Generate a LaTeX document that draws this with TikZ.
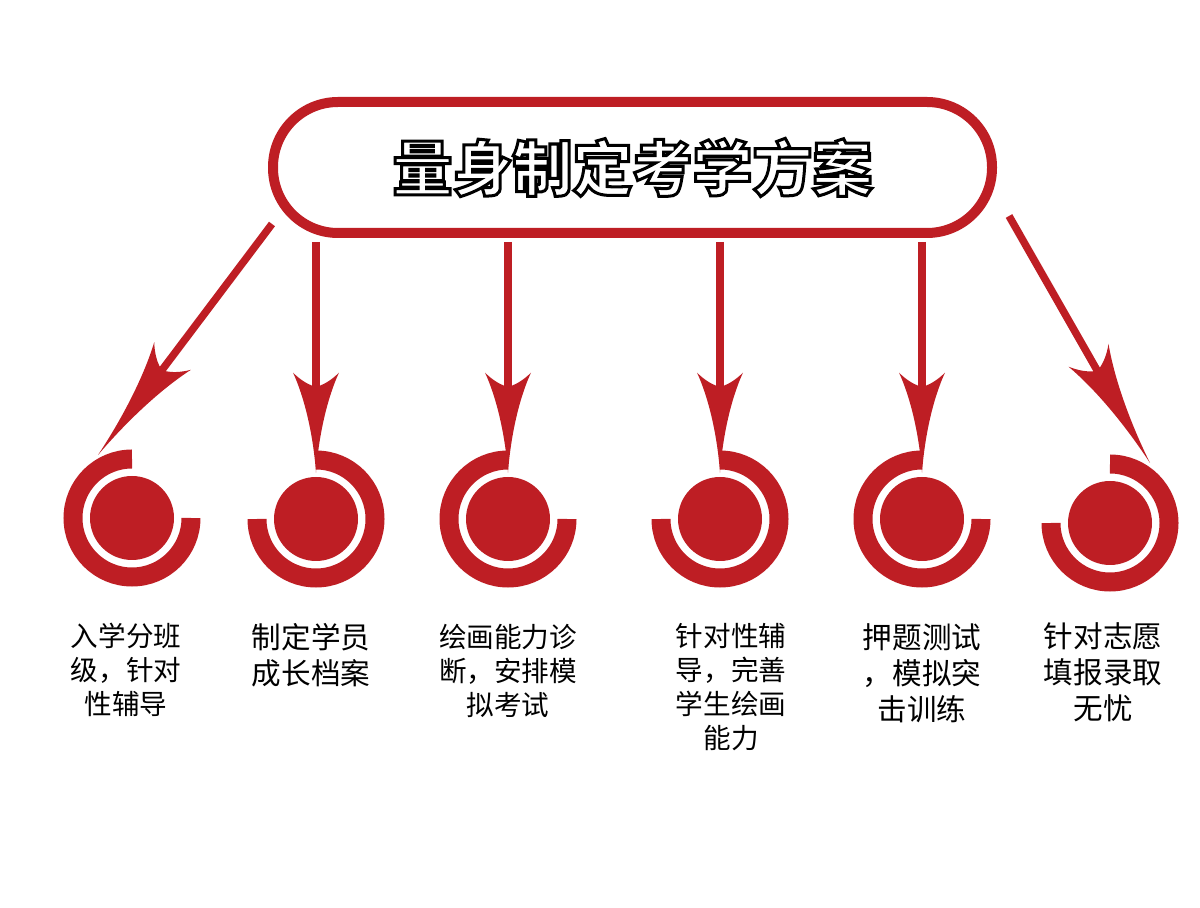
\documentclass[tikz,border=0pt]{standalone}
\usepackage{fontspec}
\usepackage{xcolor}
\usetikzlibrary{arrows.meta,positioning}
\setmainfont{Noto Sans CJK SC}
\definecolor{planred}{RGB}{190,30,36}

% hollow title: white fill, black stroke
\newcommand{\hollow}[1]{{\color{white}\special{pdf:literal direct 0 G 2 Tr 1.5 w}#1\special{pdf:literal direct 0 Tr}}}

% barbed arrow head with concave sides
\newdimen\barbL
\newdimen\barbW
\pgfdeclarearrow{
  name = Barb,
  parameters = {\the\pgfarrowlength,\the\pgfarrowwidth},
  setup code = {
    \barbL=\pgfarrowlength
    \barbW=.5\pgfarrowwidth
    \pgfarrowssettipend{0pt}
    \pgfarrowssetlineend{-.8\barbL}
    \pgfarrowssetbackend{-\barbL}
    \pgfarrowsupperhullpoint{-\barbL}{\barbW}
    \pgfarrowssavethe\barbL
    \pgfarrowssavethe\barbW
  },
  drawing code = {
    \pgfpathmoveto{\pgfqpoint{0pt}{0pt}}
    \pgfpathcurveto{\pgfqpoint{-.4\barbL}{.13\barbW}}{\pgfqpoint{-.76\barbL}{.52\barbW}}{\pgfqpoint{-\barbL}{\barbW}}
    \pgfpathcurveto{\pgfqpoint{-.93\barbL}{.7\barbW}}{\pgfqpoint{-.89\barbL}{.4\barbW}}{\pgfqpoint{-.87\barbL}{.18\barbW}}
    \pgfpathlineto{\pgfqpoint{-.87\barbL}{-.18\barbW}}
    \pgfpathcurveto{\pgfqpoint{-.89\barbL}{-.4\barbW}}{\pgfqpoint{-.93\barbL}{-.7\barbW}}{\pgfqpoint{-\barbL}{-\barbW}}
    \pgfpathcurveto{\pgfqpoint{-.76\barbL}{-.52\barbW}}{\pgfqpoint{-.4\barbL}{-.13\barbW}}{\pgfqpoint{0pt}{0pt}}
    \pgfpathclose
    \pgfusepathqfill
  },
  defaults = {length=50pt, width=23pt}
}

\begin{document}
\begin{tikzpicture}[x=0.5pt,y=-0.5pt]
    \tikzstyle{capsule} = [rectangle, rounded corners=32.5pt, draw=planred, line width=5pt, minimum width=359.5pt, minimum height=65.5pt, inner sep=0pt, font=\fontsize{30pt}{30pt}\selectfont\bfseries]
    \tikzstyle{dot} = [circle, fill=planred, minimum size=42pt, inner sep=0pt]
    \tikzstyle{ring} = [draw=planred, line width=9.5pt]
    \tikzstyle{link} = [draw=planred, line width=3.75pt, -{Barb}]
    \tikzstyle{slant} = [link, -{Barb[length=62pt]}]
    \tikzstyle{note} = [align=center, inner sep=0pt, font=\fontsize{13.8pt}{17pt}\selectfont]
    \tikzstyle{bignote} = [note, font=\fontsize{14.8pt}{18pt}\selectfont]

    \useasboundingbox (0,0) rectangle (1200,908);

    \node [capsule] (plan) at (632.5,167.5) {\hollow{量身制定考学方案}};

    \node [dot] (c1) at (132,518) {};
    \node [dot] (c2) at (316,519) {};
    \node [dot] (c3) at (508,519) {};
    \node [dot] (c4) at (720,519) {};
    \node [dot] (c5) at (922,519) {};
    \node [dot] (c6) at (1110,523) {};

    % open rings round the dots
    \draw [ring] ([yshift=29.5pt]c1.center) arc [start angle=90, end angle=360, radius=29.5pt];
    \draw [ring] ([xshift=-29.5pt]c2.center) arc [start angle=180, end angle=450, radius=29.5pt];
    \draw [ring] ([yshift=29.5pt]c3.center) arc [start angle=90, end angle=360, radius=29.5pt];
    \draw [ring] ([xshift=-29.5pt]c4.center) arc [start angle=180, end angle=450, radius=29.5pt];
    \draw [ring] ([yshift=29.5pt]c5.center) arc [start angle=90, end angle=360, radius=29.5pt];
    \draw [ring] ([xshift=-29.5pt]c6.center) arc [start angle=180, end angle=450, radius=29.5pt];

    \draw [slant] ([shift={(4,-14)}]plan.south west) -- ([shift={(-34,-63)}]c1.center);
    \draw [link] ([yshift=-2pt]plan.south -| c2) -- ([yshift=2pt]c2.north);
    \draw [link] ([yshift=-2pt]plan.south -| c3) -- ([yshift=2pt]c3.north);
    \draw [link] ([yshift=-2pt]plan.south -| c4) -- ([yshift=2pt]c4.north);
    \draw [link] ([yshift=-2pt]plan.south -| c5) -- ([yshift=2pt]c5.north);
    \draw [slant] ([shift={(12,-22)}]plan.south east) -- ([shift={(40,-60)}]c6.center);

    \node [note, below=31pt of c1, xshift=-3pt] (t1) {入学分班\\级，针对\\性辅导};
    \node [bignote, below=31pt of c2, xshift=-2.5pt] (t2) {制定学员\\成长档案};
    \node [note, below=31pt of c3] (t3) {绘画能力诊\\断，安排模\\拟考试};
    \node [note, below=31pt of c4, xshift=5.5pt] (t4) {针对性辅\\导，完善\\学生绘画\\能力};
    \node [bignote, below=31pt of c5] (t5) {押题测试\\，模拟突\\击训练};
    \node [bignote, below=28.5pt of c6, xshift=-3.5pt] (t6) {针对志愿\\填报录取\\无忧};
\end{tikzpicture}
\end{document}
